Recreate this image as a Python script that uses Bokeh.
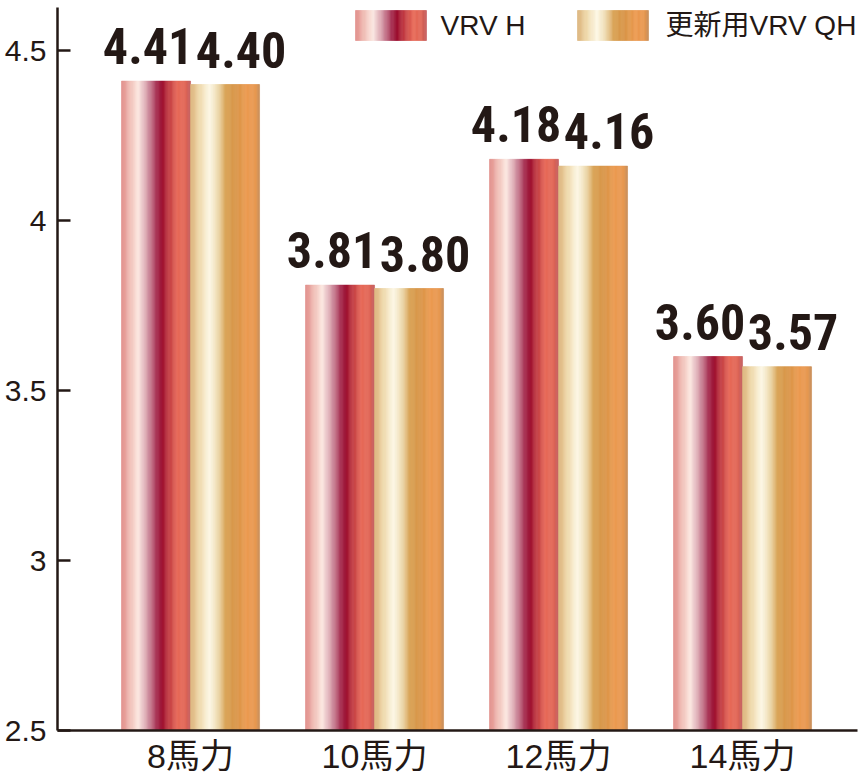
import numpy as np
from bokeh.plotting import figure
from bokeh.models import ColumnDataSource, FixedTicker, Label
from bokeh.core.properties import value
from bokeh.embed import file_html
from bokeh.resources import INLINE

# ---------------- data ----------------
categories = ["8馬力", "10馬力", "12馬力", "14馬力"]
vrv_h = [4.41, 3.81, 4.18, 3.60]
vrv_qh = [4.40, 3.80, 4.16, 3.57]
series_names = ["VRV H", "更新用VRV QH"]
y_ticks = [2.5, 3, 3.5, 4, 4.5]
y_tick_labels = ["2.5", "3", "3.5", "4", "4.5"]

# ---------------- styles ----------------
INK = "#231815"
RED_STOPS = [(0.0, "#e08884"), (0.12, "#f0bcb4"), (0.25, "#fce8e2"), (0.38, "#d49aa8"),
             (0.50, "#ac3c5c"), (0.58, "#98082c"), (0.68, "#c03a42"), (0.82, "#e86a58"),
             (0.93, "#e06656"), (1.0, "#c25a5a")]
ORG_STOPS = [(0.0, "#dab078"), (0.12, "#eed6a6"), (0.28, "#fdf8e6"), (0.40, "#eedab0"),
             (0.52, "#d8a052"), (0.66, "#d89548"), (0.82, "#ec9a50"), (0.95, "#e89850"),
             (1.0, "#c48a52")]
N_STRIPS = 60
LABEL_FONT = ("Noto Sans ExtraCondensed, Roboto Condensed, Liberation Sans Narrow, Liberation Sans")


def _rgb(h):
    h = h.lstrip("#")
    return np.array([int(h[i:i + 2], 16) for i in (0, 2, 4)], dtype=float)


def grad_color(stops, t):
    for (t0, c0), (t1, c1) in zip(stops[:-1], stops[1:]):
        if t0 <= t <= t1:
            f = (t - t0) / (t1 - t0) if t1 > t0 else 0
            c = _rgb(c0) * (1 - f) + _rgb(c1) * f
            return "#%02x%02x%02x" % tuple(int(round(v)) for v in c)
    return stops[-1][1]


# geometry (canvas pixels)
FL, FT = 57, 7            # frame left / top
FRAME_W, FRAME_H = 800, 723
X0 = -0.723
SX = 184.0
X1 = X0 + FRAME_W / SX
Y0 = 2.5
SY = 340.0
Y1 = Y0 + FRAME_H / SY


def px_x(px):
    return X0 + (px - FL) / SX


def px_y(py):
    return Y1 - (py - FT) / SY


p = figure(frame_width=FRAME_W, frame_height=FRAME_H, x_range=(X0, X1), y_range=(Y0, Y1),
           output_backend="svg", toolbar_location=None,
           min_border_left=FL, min_border_right=7, min_border_top=FT, min_border_bottom=45)
p.outline_line_color = None
p.xgrid.visible = False
p.ygrid.visible = False
p.background_fill_color = "white"
p.border_fill_color = "white"

BAR_W = 0.375
series = [(vrv_h, -BAR_W / 2, RED_STOPS, -8), (vrv_qh, BAR_W / 2, ORG_STOPS, 16)]

for vals, off, stops, lab_dx in series:
    L, R, T, B, C = [], [], [], [], []
    for i, v in enumerate(vals):
        left = i + off - BAR_W / 2
        for k in range(N_STRIPS):
            L.append(left + k * BAR_W / N_STRIPS)
            R.append(left + (k + 1) * BAR_W / N_STRIPS)
            T.append(v)
            B.append(Y0)
            C.append(grad_color(stops, (k + 0.5) / N_STRIPS))
    src = ColumnDataSource(dict(left=L, right=R, top=T, bottom=B, color=C))
    p.quad(left="left", right="right", top="top", bottom="bottom", source=src,
           fill_color="color", line_color="color", line_width=0.6)
    lsrc = ColumnDataSource(dict(x=[i + off for i in range(len(vals))], y=vals,
                                 t=["%.2f" % v for v in vals]))
    p.text(x="x", y="y", text="t", source=lsrc, x_offset=lab_dx, y_offset=-35,
           text_align="center", text_baseline="alphabetic", text_color=INK,
           text_font=value(LABEL_FONT), text_font_style="bold", text_font_size="50px")

# legend
leg = [(355, 426, 440, RED_STOPS, series_names[0]), (577, 648, 665, ORG_STOPS, series_names[1])]
for sx0, sx1, tx, stops, name in leg:
    L, R, C = [], [], []
    w = (sx1 - sx0) / N_STRIPS
    for k in range(N_STRIPS):
        L.append(px_x(sx0 + k * w))
        R.append(px_x(sx0 + (k + 1) * w))
        C.append(grad_color(stops, (k + 0.5) / N_STRIPS))
    src = ColumnDataSource(dict(left=L, right=R, top=[px_y(10)] * N_STRIPS,
                                bottom=[px_y(40)] * N_STRIPS, color=C))
    p.quad(left="left", right="right", top="top", bottom="bottom", source=src,
           fill_color="color", line_color="color", line_width=0.6)
    p.add_layout(Label(x=px_x(tx), y=px_y(25), text=name, text_baseline="middle",
                       text_align="left", text_color=INK, text_font_size="28px",
                       text_font="Liberation Sans, Noto Sans CJK JP"))

# axes
p.yaxis.ticker = FixedTicker(ticks=y_ticks)
p.yaxis.major_label_overrides = {float(t): s for t, s in zip(y_ticks, y_tick_labels)}
p.yaxis.minor_tick_line_color = None
p.yaxis.major_tick_in = 13
p.yaxis.major_tick_out = 0
p.yaxis.major_tick_line_width = 2.5
p.yaxis.major_tick_line_color = INK
p.yaxis.axis_line_width = 2.5
p.yaxis.axis_line_color = INK
p.yaxis.major_label_standoff = 11
p.yaxis.major_label_text_font_size = "30px"
p.yaxis.major_label_text_font = "Liberation Sans"
p.yaxis.major_label_text_color = INK

p.xaxis.ticker = FixedTicker(ticks=list(range(len(categories))))
p.xaxis.major_label_overrides = {i: c for i, c in enumerate(categories)}
p.xaxis.minor_tick_line_color = None
p.xaxis.major_tick_line_color = None
p.xaxis.major_tick_in = 0
p.xaxis.major_tick_out = 0
p.xaxis.axis_line_width = 2.5
p.xaxis.axis_line_color = INK
p.xaxis.major_label_standoff = 6
p.xaxis.major_label_text_font_size = "34px"
p.xaxis.major_label_text_font = "Liberation Sans, Noto Sans CJK JP"
p.xaxis.major_label_text_color = INK

open("out.html", "w").write(file_html(p, INLINE))
